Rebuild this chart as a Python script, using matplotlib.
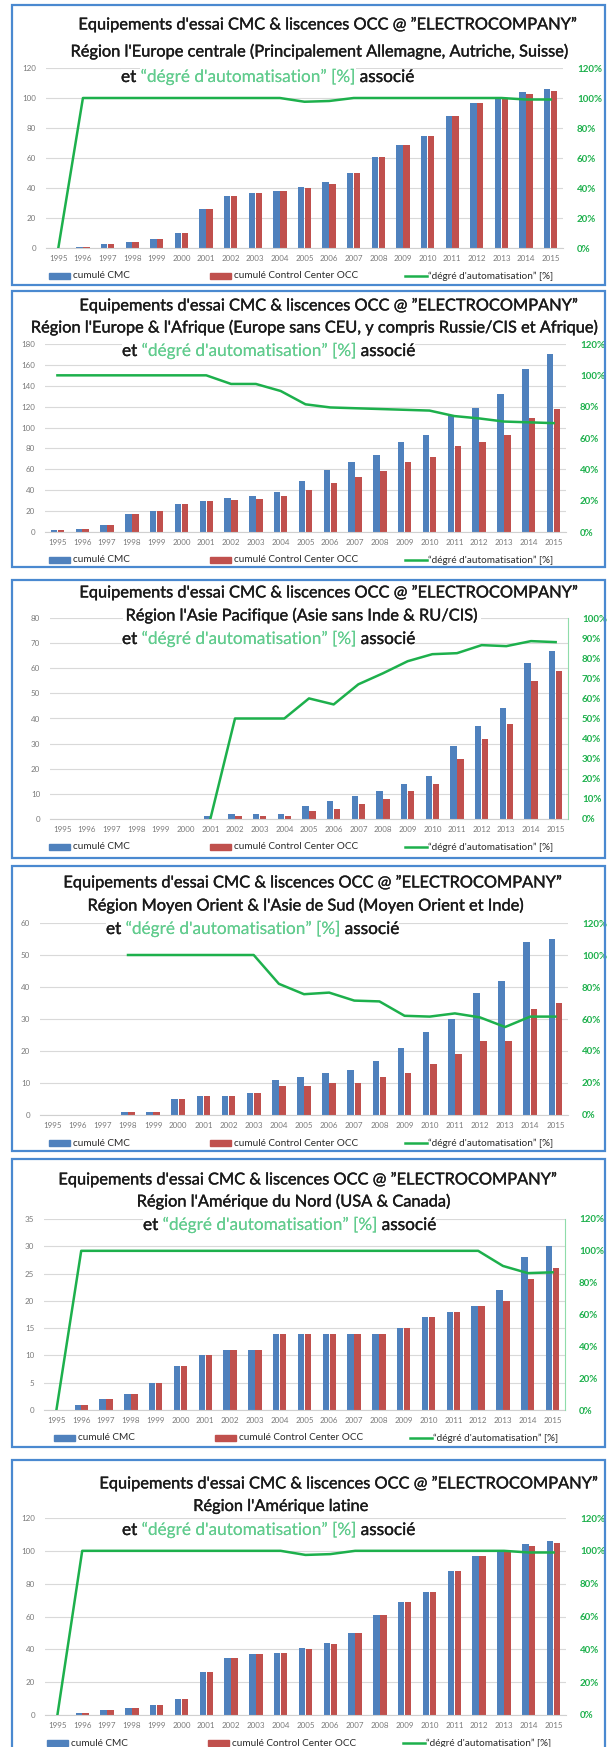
import numpy as np
import matplotlib
matplotlib.use("Agg")
import matplotlib.pyplot as plt
import matplotlib.patheffects as pe
from matplotlib.patches import Rectangle
from matplotlib.lines import Line2D
from matplotlib.ticker import FuncFormatter

plt.rcParams["font.family"] = ["Lato", "DejaVu Sans"]

nan = np.nan

annees = [str(a) for a in range(1995, 2016)]

# Europe centrale
cmc_ceu = [0, 1, 3, 4, 6, 10, 26, 35, 37, 38, 41, 44, 50, 61, 69, 75, 88, 97, 100, 104, 106]
occ_ceu = [0, 1, 3, 4, 6, 10, 26, 35, 37, 38, 40, 43, 50, 61, 69, 75, 88, 97, 100, 103, 105]
auto_ceu = [0, 100, 100, 100, 100, 100, 100, 100, 100, 100, 97.5, 98, 100, 100, 100, 100, 100, 100, 100, 99, 99]

# Europe & Afrique
cmc_eaf = [2, 3, 7, 17, 20, 27, 30, 33, 34, 38, 49, 59, 67, 74, 86, 93, 111, 119, 132, 156, 170]
occ_eaf = [2, 3, 7, 17, 20, 27, 30, 31, 32, 34, 40, 47, 53, 58, 67, 72, 82, 86, 93, 109, 118]
auto_eaf = [100, 100, 100, 100, 100, 100, 100, 94.5, 94.5, 90, 81.5, 79.5, 79, 78.5, 78, 77.5, 74, 72.5, 70.5, 70, 69.5]

# Asie Pacifique
cmc_apa = [0, 0, 0, 0, 0, 0, 1, 2, 2, 2, 5, 7, 9, 11, 14, 17, 29, 37, 44, 62, 67]
occ_apa = [0, 0, 0, 0, 0, 0, 0, 1, 1, 1, 3, 4, 6, 8, 11, 14, 24, 32, 38, 55, 59]
auto_apa = [nan, nan, nan, nan, nan, nan, 0, 50, 50, 50, 60, 57, 67, 72.5, 78.5, 82, 82.5, 86.5, 86, 88.5, 88]

# Moyen Orient & Asie de Sud
cmc_mea = [0, 0, 0, 1, 1, 5, 6, 6, 7, 11, 12, 13, 14, 17, 21, 26, 30, 38, 42, 54, 55]
occ_mea = [0, 0, 0, 1, 1, 5, 6, 6, 7, 9, 9, 10, 10, 12, 13, 16, 19, 23, 23, 33, 35]
auto_mea = [nan, nan, nan, 100, 100, 100, 100, 100, 100, 82, 75.5, 76.5, 71.5, 71, 62, 61.5, 63.5, 61, 55, 61.5, 61.5]

# Amérique du Nord
cmc_nam = [0, 1, 2, 3, 5, 8, 10, 11, 11, 14, 14, 14, 14, 14, 15, 17, 18, 19, 22, 28, 30]
occ_nam = [0, 1, 2, 3, 5, 8, 10, 11, 11, 14, 14, 14, 14, 14, 15, 17, 18, 19, 20, 24, 26]
auto_nam = [0, 100, 100, 100, 100, 100, 100, 100, 100, 100, 100, 100, 100, 100, 100, 100, 100, 100, 90.5, 86, 86.5]

# Amérique latine
cmc_lat = [0, 1, 3, 4, 6, 10, 26, 35, 37, 38, 41, 44, 50, 61, 69, 75, 88, 97, 100, 104, 106]
occ_lat = [0, 1, 3, 4, 6, 10, 26, 35, 37, 38, 40, 43, 50, 61, 69, 75, 88, 97, 100, 103, 105]
auto_lat = [0, 100, 100, 100, 100, 100, 100, 100, 100, 100, 97.5, 98, 100, 100, 100, 100, 100, 100, 100, 99, 99]

titre1 = "Equipements d'essai CMC & liscences OCC @ \u201dELECTROCOMPANY\u201d"

W, H = 611, 1747
BLEU = "#4f81bd"
ROUGE = "#c0504d"
VERT = "#1db04c"
VERT_CLAIR = "#62cc8e"
GRIS = "#7a7a7a"
NOIR = "#1a1a1a"
CADRE = "#4a89d0"


def fx(x):
    return x / W


def fy(y):
    return 1 - y / H


panneaux = [
    dict(titre2="Région l'Europe centrale (Principalement Allemagne, Autriche, Suisse)",
         cmc=cmc_ceu, occ=occ_ceu, auto=auto_ceu,
         cadre=(5, 285), axe=(46, 563, 68, 248), ymax=120, ypas=20, pmax=120, ppas=20,
         t1=(328, 25), t2=(320, 52), t3=(121, 77), spine=False, dx=0),
    dict(titre2="Région l'Europe & l'Afrique (Europe sans CEU, y compris Russie/CIS et Afrique)",
         cmc=cmc_eaf, occ=occ_eaf, auto=auto_eaf,
         cadre=(291, 567), axe=(45, 566, 344, 532), ymax=180, ypas=20, pmax=120, ppas=20,
         t1=(329, 306), t2=(315, 328), t3=(122, 351), spine=False, dx=0),
    dict(titre2="Région l'Asie Pacifique (Asie sans Inde & RU/CIS)",
         cmc=cmc_apa, occ=occ_apa, auto=auto_apa,
         cadre=(580, 858), axe=(50, 568, 618, 819), ymax=80, ypas=10, pmax=100, ppas=10,
         t1=(329, 593), t2=(302, 616), t3=(122, 639), spine=True, dx=0),
    dict(titre2="Région Moyen Orient & l'Asie de Sud (Moyen Orient et Inde)",
         cmc=cmc_mea, occ=occ_mea, auto=auto_mea,
         cadre=(866, 1151), axe=(40, 568, 923, 1115), ymax=60, ypas=10, pmax=120, ppas=20,
         t1=(313, 883), t2=(306, 906), t3=(106, 929), spine=False, dx=0),
    dict(titre2="Région l'Amérique du Nord (USA & Canada)",
         cmc=cmc_nam, occ=occ_nam, auto=auto_nam,
         cadre=(1159, 1447), axe=(44, 565, 1219, 1410), ymax=35, ypas=5, pmax=120, ppas=20,
         t1=(308, 1180), t2=(294, 1202), t3=(143, 1225), spine=True, dx=5),
    dict(titre2="Région l'Amérique latine",
         cmc=cmc_lat, occ=occ_lat, auto=auto_lat,
         cadre=(1460, 1760), axe=(45, 566, 1518, 1715), ymax=120, ypas=20, pmax=120, ppas=20,
         t1=(349, 1484), t2=(281, 1507), t3=(122, 1530), spine=False, dx=-2),
]

fig = plt.figure(figsize=(W / 100, H / 100), dpi=100)
rend = fig.canvas.get_renderer()
x = np.arange(len(annees))
fond = dict(facecolor="white", edgecolor="none", pad=2)
epais = [pe.withStroke(linewidth=0.25, foreground=NOIR)]

for p in panneaux:
    l, r, t, b = p["axe"]
    ax = fig.add_axes([fx(l), fy(b), (r - l) / W, (b - t) / H])
    ax.bar(x - 0.14, p["cmc"], 0.26, color=BLEU)
    ax.bar(x + 0.14, p["occ"], 0.26, color=ROUGE)
    ax.set_xlim(-0.5, len(annees) - 0.5)
    ax.set_ylim(0, p["ymax"])
    ax.set_yticks(np.arange(0, p["ymax"] + 1, p["ypas"]))
    ax.set_xticks(x, annees)
    ax.grid(axis="y", color="#d9d9d9", lw=0.8)
    ax.set_axisbelow(True)
    for s in ["top", "right", "left"]:
        ax.spines[s].set_visible(False)
    ax.spines["bottom"].set_color("#d0d0d0")
    ax.tick_params(axis="both", length=0, labelsize=5.8, labelcolor=GRIS)
    ax.tick_params(axis="y", pad=7)
    ax.tick_params(axis="x", pad=5)

    ax2 = ax.twinx()
    ax2.plot(x, p["auto"], color=VERT, lw=1.8)
    ax2.set_ylim(0, p["pmax"])
    ax2.set_yticks(np.arange(0, p["pmax"] + 1, p["ppas"]))
    ax2.yaxis.set_major_formatter(FuncFormatter(lambda v, pos: f"{v:.0f}%"))
    ax2.tick_params(axis="y", length=0, labelsize=7, labelcolor=VERT, pad=10)
    for lab in ax2.get_yticklabels():
        lab.set_fontweight("bold")
    for s in ["top", "left", "bottom", "right"]:
        ax2.spines[s].set_visible(False)
    if p["spine"]:
        ax2.spines["right"].set_visible(True)
        ax2.spines["right"].set_color("#8fdcaa")

    # cadre bleu
    ht, hb = p["cadre"]
    fig.add_artist(Rectangle((fx(12), fy(hb)), (605 - 12) / W, (hb - ht) / H, fill=False,
                             edgecolor=CADRE, lw=1.6, transform=fig.transFigure))

    # titres
    fig.text(fx(p["t1"][0]), fy(p["t1"][1]), titre1, ha="center", va="center",
             fontsize=11.8, color=NOIR, bbox=fond, path_effects=epais)
    fig.text(fx(p["t2"][0]), fy(p["t2"][1]), p["titre2"], ha="center", va="center",
             fontsize=11.8, color=NOIR, bbox=fond, path_effects=epais)
    x0 = p["t3"][0]
    for morceau, couleur, trait in [("et ", NOIR, 0.25),
                                    ("\u201cdégré d'automatisation\u201d [%]", VERT_CLAIR, 0.0),
                                    (" associé", NOIR, 0.25)]:
        tx = fig.text(fx(x0), fy(p["t3"][1] + 5), morceau, ha="left", va="baseline",
                      fontsize=12.4, color=couleur,
                      bbox=dict(facecolor="white", edgecolor="none", pad=0.3),
                      path_effects=[pe.withStroke(linewidth=trait, foreground=couleur)])
        x0 = tx.get_window_extent(rend).x1

    # légende
    yl = b + 28
    dx = p["dx"]
    fig.add_artist(Rectangle((fx(49 + dx), fy(yl + 3)), 21 / W, 6 / H, color=BLEU,
                             transform=fig.transFigure))
    fig.text(fx(73 + dx), fy(yl), "cumulé CMC", va="center", fontsize=7.2, color="#2a2a2a")
    fig.add_artist(Rectangle((fx(210 + dx), fy(yl + 3)), 21 / W, 6 / H, color=ROUGE,
                             transform=fig.transFigure))
    fig.text(fx(234 + dx), fy(yl), "cumulé Control Center OCC", va="center", fontsize=7.2,
             color="#2a2a2a")
    fig.add_artist(Line2D([fx(405 + dx), fx(427 + dx)], [fy(yl), fy(yl)], color=VERT, lw=1.8,
                          transform=fig.transFigure))
    fig.text(fx(428 + dx), fy(yl), "\u201cdégré d'automatisation\u201d [%]", va="center",
             fontsize=7.2, color="#2a2a2a")

fig.savefig("out.png", dpi=100)
